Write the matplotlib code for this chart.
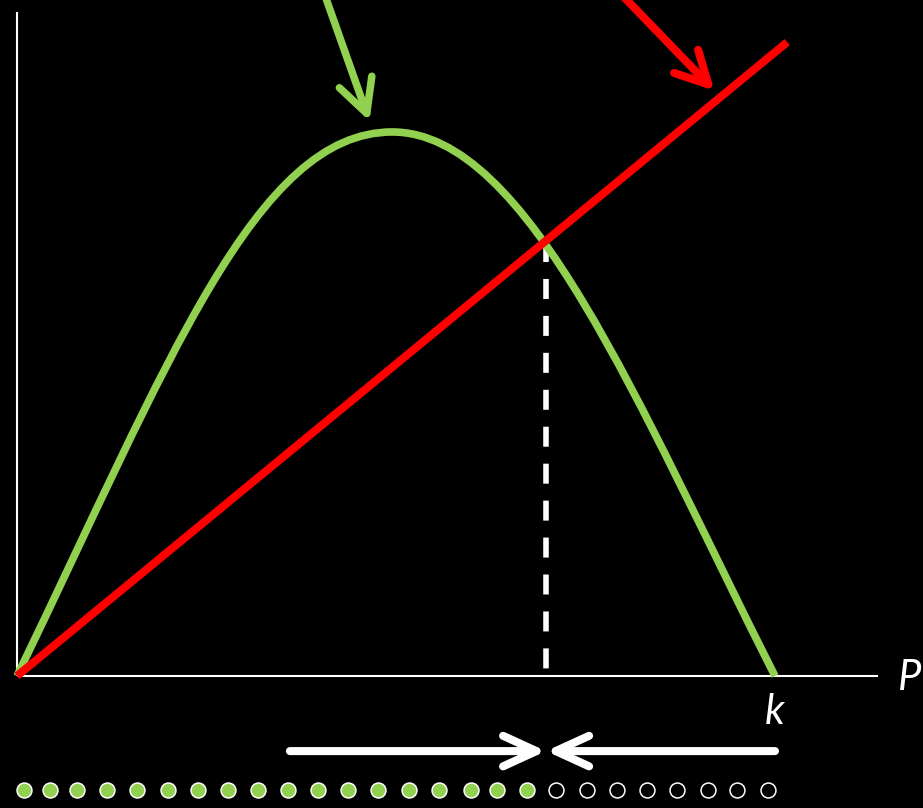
import matplotlib
matplotlib.use("Agg")
import matplotlib.pyplot as plt
from matplotlib.path import Path
from matplotlib.patches import PathPatch

# growth curve (population P vs net growth), k = 100
# drawn as two cubic Bezier pieces: start, ctrl, ctrl, peak, ctrl, ctrl, end
growth_P = [0, 20, 31.5, 49.5, 67.5, 82, 100]
growth_val = [0, 57.6, 100, 100, 100, 49.5, 0]

# harvest line
harvest_P = [0, 101.6]
harvest_val = [0, 116.5]

# equilibrium
P_eq = 69.8
eq_val = 79.8
K = 100

# axis extents
y_axis_top = 122.1
x_axis_end = 113.6

# bottom row: arrows and individuals
arrow_y = -13.8
arrow_left_start = 36.0
arrow_right_start = 100
dot_y = -21.0
dot_P = [0.9, 4.4, 7.9, 11.9, 15.8, 19.9, 23.9, 27.8, 31.8, 35.8, 39.7, 43.7, 47.6,
         51.7, 55.7, 59.9, 63.3, 67.3, 71.1, 75.2, 79.2, 83.1, 87.1, 91.2, 95.0, 99.1]
n_filled = 18

# pointer arrows at the top (start, tip)
green_ptr = [(40.6, 125.2), (46.5, 102.0)]
red_ptr = [(79.8, 125.2), (92.0, 107.6)]

GREEN = "#92D050"
RED = "#FF0000"

fig = plt.figure(figsize=(9.23, 8.08), dpi=100, facecolor="black")
ax = fig.add_axes([0, 0, 1, 1])
ax.set_facecolor("black")
ax.set_xlim(-2.243, 119.525)
ax.set_ylim(-24.26, 124.26)
ax.axis("off")

# axes lines
ax.plot([0, 0], [0, y_axis_top], color="white", lw=1.5, solid_capstyle="butt", zorder=1)
ax.plot([0, x_axis_end], [0, 0], color="white", lw=1.5, solid_capstyle="butt", zorder=1)

# dashed equilibrium line
ax.plot([P_eq, P_eq], [eq_val, 0], color="white", lw=4,
        linestyle=(0, (3.6, 3.05)), dash_capstyle="butt", zorder=2)

# growth curve
codes = [Path.MOVETO] + [Path.CURVE4] * (len(growth_P) - 1)
curve = Path(list(zip(growth_P, growth_val)), codes)
ax.add_patch(PathPatch(curve, facecolor="none", edgecolor=GREEN, lw=5.5,
                       capstyle="butt", zorder=3))

# harvest line
ax.plot(harvest_P, harvest_val, color=RED, lw=5.8, solid_capstyle="butt", zorder=4)

# labels
txt = dict(color="white", fontsize=30, style="italic", family=["Lato", "DejaVu Sans"])
ax.text(116.2, -0.3, "P", ha="left", va="center", **txt)
ax.text(99.9, -6.7, "k", ha="center", va="center", **txt)


def arrow(start, tip, color, lw, hl, hw):
    ax.annotate("", xy=tip, xytext=start,
                arrowprops=dict(arrowstyle=f"->,head_length={hl},head_width={hw}",
                                color=color, lw=lw, shrinkA=0, shrinkB=0,
                                mutation_scale=20, capstyle="round",
                                joinstyle="round"),
                annotation_clip=False, zorder=5)


# converging arrows toward equilibrium
arrow((arrow_left_start, arrow_y), (P_eq, arrow_y), "white", 5.8, 1.2, 0.55)
arrow((arrow_right_start, arrow_y), (P_eq, arrow_y), "white", 5.8, 1.2, 0.55)

# pointers at the top
arrow(green_ptr[0], green_ptr[1], GREEN, 5.4, 1.2, 0.62)
arrow(red_ptr[0], red_ptr[1], RED, 5.8, 1.15, 0.6)

# individuals
ax.scatter(dot_P[:n_filled], [dot_y] * n_filled, s=115, facecolor=GREEN,
           edgecolor="white", linewidths=1.1, zorder=5)
ax.scatter(dot_P[n_filled:], [dot_y] * (len(dot_P) - n_filled), s=115,
           facecolor="black", edgecolor="white", linewidths=1.1, zorder=5)

fig.savefig("out.png", dpi=100, facecolor="black")
